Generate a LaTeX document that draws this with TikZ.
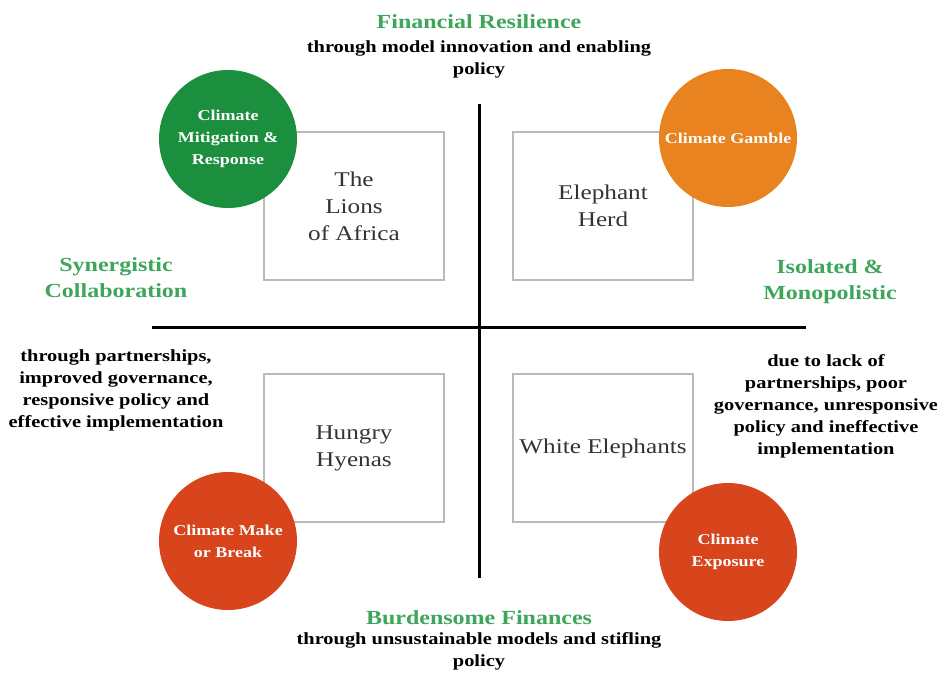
\documentclass[tikz,border=0pt]{standalone}
\usepackage{fontspec}
\setmainfont{Liberation Serif}[FakeStretch=1.2]
\usepackage{tikz}
\usepackage{xcolor}
\definecolor{mitigreen}{HTML}{1B8F3E}
\definecolor{gambleorange}{HTML}{E8831F}
\definecolor{breakred}{HTML}{D8441C}
\definecolor{titlegreen}{HTML}{3DA65A}

\begin{document}
\begin{tikzpicture}[x=1pt,y=-1pt]
	\tikzstyle{quadrant}=[draw=gray!55,line width=1.5pt,minimum width=180pt,minimum height=148pt,align=center,text=black!80,font=\fontsize{21}{27}\selectfont]
	\tikzstyle{scenario}=[circle,minimum size=138pt,inner sep=0pt,align=center,text=white,font=\bfseries\fontsize{15}{22}\selectfont]
	\tikzstyle{heading}=[align=center,text=titlegreen,font=\bfseries\fontsize{20}{26}\selectfont]
	\tikzstyle{note}=[align=center,font=\bfseries\fontsize{17}{22}\selectfont]
	\tikzstyle{axis}=[line width=3pt]
	
	\useasboundingbox (0,0) rectangle (937,672);
	
	% axes
	\coordinate (top) at (479,104);
	\coordinate (bottom) at (479,578);
	\coordinate (left) at (152,327);
	\coordinate (right) at (806,327);
	\draw [axis] (top) -- (bottom);
	\draw [axis] (left) -- (right);
	
	% quadrants
	\node [quadrant] (lions) at (354,206) {The\\Lions\\of Africa};
	\node [quadrant] (herd) at (603,206) {Elephant\\Herd};
	\node [quadrant] (hyenas) at (354,448) {Hungry\\Hyenas};
	\node [quadrant] (white) at (603,448) {White Elephants};
	
	% scenarios
	\node [scenario,fill=mitigreen] (mitigation) at (228,139) {Climate\\Mitigation \&\\Response};
	\node [scenario,fill=gambleorange] (gamble) at (728,138) {Climate Gamble};
	\node [scenario,fill=breakred] (makebreak) at (228,541) {Climate Make\\or Break};
	\node [scenario,fill=breakred] (exposure) at (728,552) {Climate\\Exposure};
	
	% axis labels
	\node [heading] (resilience) at (479,22) {Financial Resilience};
	\node [note] (resnote) at (479,59) {through model innovation and enabling\\policy};
	\node [heading] (synergy) at (116,278) {Synergistic\\Collaboration};
	\node [note] (synnote) at (116,390) {through partnerships,\\improved governance,\\responsive policy and\\effective implementation};
	\node [heading] (isolated) at (830,282) {Isolated \&\\Monopolistic};
	\node [note] (isonote) at (826,406) {due to lack of\\partnerships, poor\\governance, unresponsive\\policy and ineffective\\implementation};
	\node [heading] (burden) at (479,618) {Burdensome Finances};
	\node [note] (burnote) at (479,651) {through unsustainable models and stifling\\policy};
\end{tikzpicture}
\end{document}
